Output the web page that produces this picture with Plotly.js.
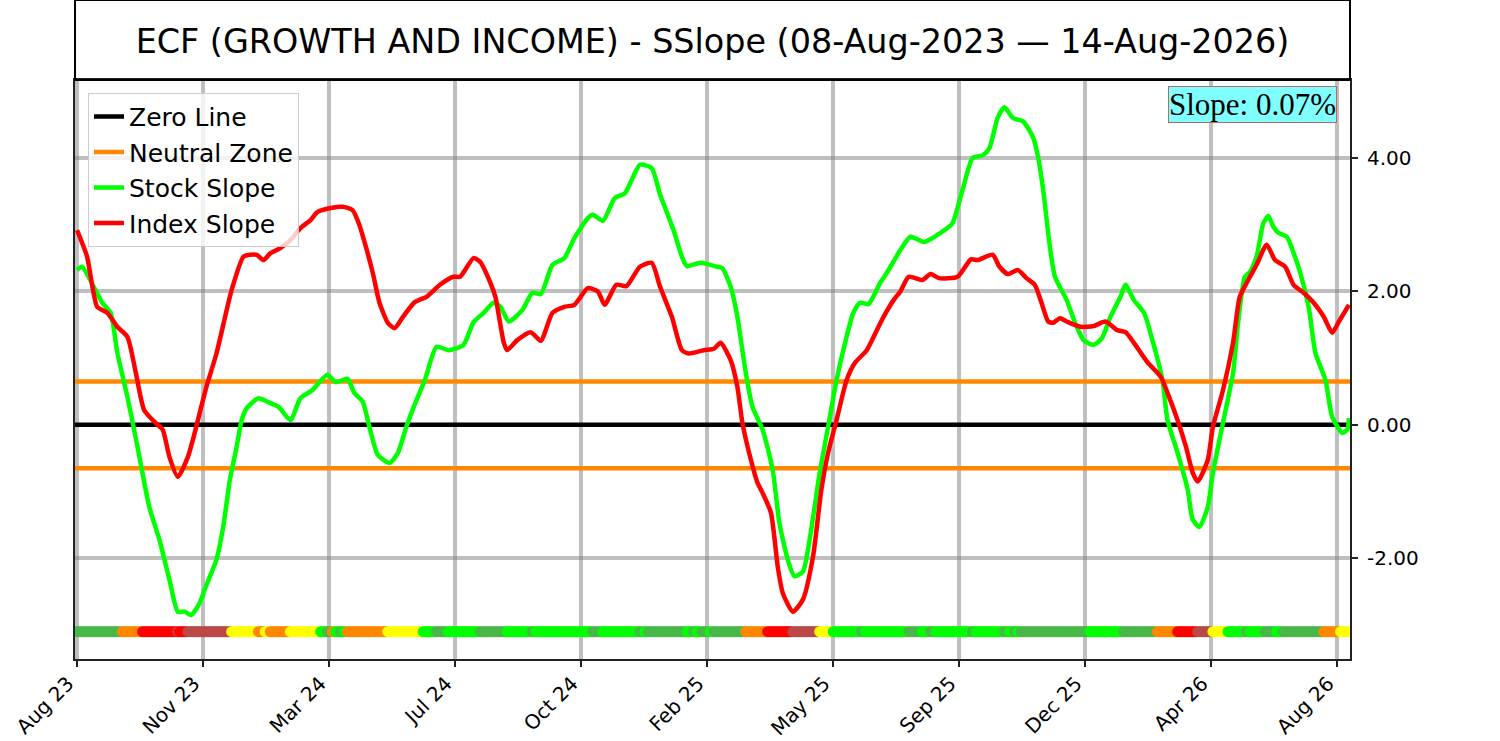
<!DOCTYPE html>
<html>
<head>
<meta charset="utf-8">
<script src="https://cdn.plot.ly/plotly-3.0.1.min.js"></script>
<style>
  html, body { margin: 0; padding: 0; background: #fff; }
  #chart { width: 1500px; height: 741px; }
</style>
</head>
<body>
<div id="chart"></div>
<script>
// x is the trading-day index from 08-Aug-2023
const tickIdx = [0, 75, 150, 225, 300, 375, 450, 525, 600, 675, 750];
const tickLabels = ['Aug 23', 'Nov 23', 'Mar 24', 'Jul 24', 'Oct 24', 'Feb 25',
                    'May 25', 'Sep 25', 'Dec 25', 'Apr 26', 'Aug 26'];
const yTicks = [-2, 0, 2, 4];
const yTickLabels = ['-2.00', '0.00', '2.00', '4.00'];

const lastIdx = 757;
const neutralBand = 0.65;
const slopeText = 'Slope: 0.07%';

const stockX = [0, 3, 10, 15, 20, 24, 30, 36, 43, 49, 55, 60, 64, 68, 73, 77, 83, 87, 91, 95,
  98, 101, 108, 113, 120, 127, 133, 140, 149, 154, 161, 165, 170, 174, 179, 186, 191, 196, 202, 207,
  214, 221, 230, 236, 242, 248, 252, 257, 265, 271, 276, 283, 290, 296, 304, 307, 313, 320, 326, 331,
  335, 342, 347, 351, 355, 360, 363, 371, 381, 384, 389, 393, 398, 402, 408, 414, 418, 423, 427, 432,
  436, 442, 447, 452, 458, 462, 466, 471, 478, 482, 490, 496, 504, 509, 518, 521, 527, 533, 539, 543,
  548, 552, 557, 563, 569, 572, 575, 579, 582, 589, 594, 599, 605, 610, 615, 621, 624, 629, 635, 640,
  646, 649, 655, 661, 664, 668, 673, 676, 682, 688, 691, 695, 698, 702, 706, 709, 712, 715, 720, 724,
  728, 733, 737, 743, 747, 753, 756, 757];
const stockSlope = [2.32, 2.37, 2.07, 1.83, 1.68, 1.08, 0.42, -0.33, -1.23, -1.72, -2.32, -2.80, -2.80, -2.85, -2.67, -2.40, -2.02, -1.53, -0.82, -0.33,
  0.07, 0.25, 0.40, 0.35, 0.27, 0.07, 0.40, 0.52, 0.75, 0.64, 0.69, 0.48, 0.35, -0.03, -0.45, -0.57, -0.42, -0.03, 0.37, 0.67,
  1.17, 1.12, 1.20, 1.54, 1.68, 1.83, 1.77, 1.55, 1.72, 1.98, 1.96, 2.40, 2.50, 2.80, 3.10, 3.15, 3.06, 3.40, 3.47, 3.72,
  3.90, 3.85, 3.45, 3.19, 2.92, 2.52, 2.38, 2.43, 2.37, 2.35, 2.07, 1.62, 0.78, 0.27, -0.07, -0.67, -1.47, -2.02, -2.27, -2.20,
  -1.72, -0.72, -0.03, 0.67, 1.32, 1.68, 1.83, 1.81, 2.13, 2.28, 2.62, 2.82, 2.74, 2.80, 2.95, 3.02, 3.52, 4.00, 4.04, 4.15,
  4.61, 4.76, 4.60, 4.55, 4.31, 4.01, 3.52, 2.67, 2.22, 1.87, 1.53, 1.27, 1.20, 1.30, 1.62, 1.92, 2.10, 1.87, 1.68, 1.27,
  0.67, 0.07, -0.42, -0.97, -1.42, -1.53, -1.23, -0.72, 0.03, 0.78, 1.53, 2.22, 2.29, 2.52, 3.02, 3.13, 2.97, 2.88, 2.82, 2.58,
  2.28, 1.77, 1.08, 0.67, 0.12, -0.12, -0.07, 0.10];

const indexX = [0, 6, 12, 18, 24, 30, 35, 40, 48, 51, 55, 60, 66, 69, 77, 83, 92, 99, 103, 107,
  111, 115, 121, 127, 133, 139, 143, 151, 158, 164, 168, 171, 176, 180, 185, 189, 194, 201, 208, 216,
  224, 228, 236, 240, 246, 249, 254, 256, 262, 270, 276, 283, 290, 296, 304, 310, 314, 321, 327, 335,
  342, 347, 354, 360, 364, 373, 379, 383, 389, 393, 396, 401, 405, 408, 413, 417, 420, 426, 432, 438,
  443, 447, 452, 458, 463, 470, 476, 480, 486, 490, 495, 503, 508, 513, 524, 532, 536, 545, 549, 554,
  560, 565, 570, 574, 578, 581, 585, 589, 597, 605, 612, 619, 624, 629, 637, 645, 649, 655, 660, 664,
  667, 673, 676, 682, 688, 692, 697, 702, 708, 713, 719, 724, 730, 736, 742, 747, 751, 757];
const indexSlope = [2.92, 2.52, 1.77, 1.68, 1.47, 1.32, 0.78, 0.22, 0.00, -0.07, -0.48, -0.78, -0.48, -0.22, 0.57, 1.07, 2.02, 2.52, 2.55, 2.55,
  2.47, 2.57, 2.65, 2.77, 2.95, 3.07, 3.19, 3.25, 3.27, 3.22, 3.00, 2.75, 2.28, 1.83, 1.53, 1.45, 1.62, 1.84, 1.92, 2.10,
  2.22, 2.22, 2.50, 2.44, 2.13, 1.92, 1.23, 1.12, 1.27, 1.39, 1.26, 1.68, 1.77, 1.80, 2.05, 2.00, 1.80, 2.10, 2.08, 2.37,
  2.43, 2.07, 1.62, 1.12, 1.07, 1.12, 1.14, 1.23, 0.97, 0.57, 0.03, -0.52, -0.87, -1.02, -1.32, -2.12, -2.52, -2.80, -2.62, -1.98,
  -0.97, -0.42, 0.07, 0.67, 0.93, 1.12, 1.42, 1.62, 1.87, 2.00, 2.22, 2.17, 2.26, 2.20, 2.22, 2.48, 2.47, 2.55, 2.37, 2.26,
  2.32, 2.20, 2.10, 1.83, 1.55, 1.53, 1.60, 1.55, 1.47, 1.48, 1.55, 1.42, 1.39, 1.23, 0.94, 0.72, 0.48, 0.07, -0.33, -0.72,
  -0.85, -0.52, -0.03, 0.52, 1.23, 1.92, 2.17, 2.40, 2.70, 2.47, 2.37, 2.10, 1.98, 1.83, 1.62, 1.38, 1.55, 1.80];

// signal strip: each run starts at stripStart and holds stripState until the next run
const stripStart = [0, 27, 39, 60, 61, 66, 92, 108, 112, 115, 127, 145, 149, 152, 154, 157, 159, 161, 185, 206,
  214, 221, 240, 256, 271, 273, 307, 313, 335, 338, 340, 363, 367, 369, 372, 377, 379, 398, 411, 426,
  442, 450, 467, 469, 495, 503, 508, 511, 533, 535, 552, 555, 558, 560, 562, 603, 623, 643, 655, 667,
  676, 685, 696, 698, 707, 714, 718, 742, 752];
const stripState = ['g', 'O', 'R', 'B', 'R', 'B', 'Y', 'O', 'Y', 'O', 'Y', 'G', 'g', 'O', 'G', 'g', 'G', 'O', 'Y', 'G',
  'g', 'G', 'g', 'G', 'g', 'G', 'g', 'G', 'g', 'G', 'g', 'G', 'g', 'G', 'g', 'G', 'g', 'O', 'R', 'B',
  'Y', 'G', 'g', 'G', 'g', 'G', 'g', 'G', 'g', 'G', 'g', 'G', 'g', 'G', 'g', 'G', 'g', 'O', 'R', 'B',
  'Y', 'G', 'g', 'G', 'g', 'G', 'g', 'O', 'Y'];
const stripLevel = -3.1;

const stateColor = { G: '#00ff00', g: '#48b848', O: '#ff8800', R: '#ff0000', B: '#bc4848', Y: '#ffff00' };

let stripX = [];
let stripColors = [];
let run = 0;
for (let i = 0; i <= lastIdx; i++) {
    while (run + 1 < stripStart.length && stripStart[run + 1] <= i) run++;
    stripX.push(i);
    stripColors.push(stateColor[stripState[run]]);
}

const xMin = -1.2, xMax = 757.6;
const yMin = -3.51, yMax = 5.17;
const font = 'DejaVu Sans, sans-serif';

let traces = [
    {
        type: 'scatter', mode: 'lines', name: 'Zero Line',
        x: [xMin, xMax], y: [0, 0],
        line: { color: '#000000', width: 4.5 }
    },
    {
        type: 'scatter', mode: 'lines', name: 'Neutral Zone',
        x: [xMin, xMax, null, xMin, xMax],
        y: [neutralBand, neutralBand, null, -neutralBand, -neutralBand],
        line: { color: '#ff8800', width: 4.5 }
    },
    {
        type: 'scatter', mode: 'lines', name: 'Stock Slope',
        x: stockX, y: stockSlope,
        line: { color: '#00ff00', width: 4.5, shape: 'spline', smoothing: 0.6 }
    },
    {
        type: 'scatter', mode: 'lines', name: 'Index Slope',
        x: indexX, y: indexSlope,
        line: { color: '#ff0000', width: 4.5, shape: 'spline', smoothing: 0.6 }
    },
    {
        type: 'scatter', mode: 'markers', showlegend: false, hoverinfo: 'skip',
        x: stripX, y: stripX.map(() => stripLevel),
        marker: { color: stripColors, size: 11, line: { width: 0 } }
    }
];

let layout = {
    width: 1500,
    height: 741,
    margin: { l: 75, r: 150, t: 80, b: 82 },
    paper_bgcolor: '#ffffff',
    plot_bgcolor: '#ffffff',
    font: { family: font, color: '#000000' },
    title: {
        text: 'ECF (GROWTH AND INCOME) - SSlope (08-Aug-2023 \u2014 14-Aug-2026)',
        font: { family: font, size: 33.4, color: '#000000' },
        x: 0.5, xref: 'paper', xanchor: 'center',
        y: 1 - 41 / 741, yref: 'container', yanchor: 'middle'
    },
    xaxis: {
        range: [xMin, xMax],
        tickvals: tickIdx,
        ticktext: tickLabels,
        tickangle: -45,
        tickfont: { family: font, size: 20, color: '#000000' },
        ticks: 'outside', ticklen: 6, tickwidth: 2, tickcolor: '#222222',
        ticklabelshift: -9, ticklabelstandoff: -3,
        showgrid: true, gridcolor: 'rgba(128,128,128,0.5)', gridwidth: 4,
        showline: true, linecolor: '#222222', linewidth: 2, mirror: true,
        zeroline: false, fixedrange: true
    },
    yaxis: {
        range: [yMin, yMax],
        side: 'right',
        tickvals: yTicks,
        ticktext: yTickLabels,
        tickfont: { family: font, size: 20, color: '#000000' },
        ticks: 'outside', ticklen: 6, tickwidth: 2, tickcolor: '#222222',
        ticklabelstandoff: 5,
        showgrid: true, gridcolor: 'rgba(128,128,128,0.5)', gridwidth: 4,
        showline: true, linecolor: '#222222', linewidth: 2, mirror: true,
        zeroline: false, fixedrange: true
    },
    showlegend: true,
    legend: {
        x: 0.0102, y: 0.978, xanchor: 'left', yanchor: 'top',
        bgcolor: 'rgba(255,255,255,0.8)',
        bordercolor: '#cccccc', borderwidth: 1,
        font: { family: font, size: 25, color: '#000000' },
        itemwidth: 30
    },
    shapes: [
        {
            type: 'rect', xref: 'paper', yref: 'paper',
            x0: 0, x1: 1, y0: 1, y1: 1 + 80 / 579,
            line: { color: '#000000', width: 2 },
            fillcolor: 'rgba(0,0,0,0)'
        }
    ],
    annotations: [
        {
            text: slopeText,
            xref: 'paper', yref: 'paper',
            x: 0.9898, y: 0.989, xanchor: 'right', yanchor: 'top',
            showarrow: false,
            font: { family: 'Liberation Serif, serif', size: 31, color: '#000000' },
            bgcolor: 'rgb(128,255,255)',
            bordercolor: '#b06a6a', borderwidth: 1, borderpad: 0
        }
    ]
};

Plotly.newPlot('chart', traces, layout, { displayModeBar: false, staticPlot: true });
</script>
</body>
</html>
